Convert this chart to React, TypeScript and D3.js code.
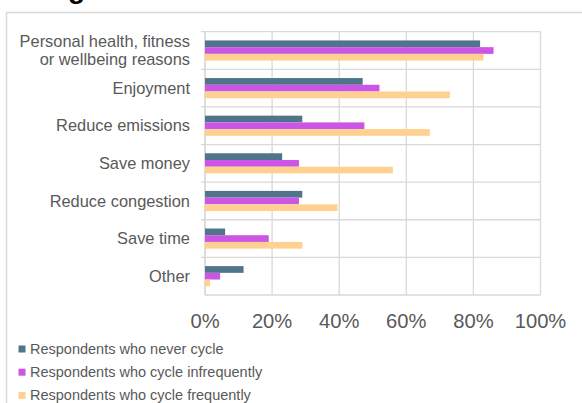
import React from "react";
import * as d3 from "d3";

const categories = [
  "Personal health, fitness|or wellbeing reasons",
  "Enjoyment",
  "Reduce emissions",
  "Save money",
  "Reduce congestion",
  "Save time",
  "Other",
];
const seriesNames = [
  "Respondents who never cycle",
  "Respondents who cycle infrequently",
  "Respondents who cycle frequently",
];
const neverCycle = [82, 47, 29, 23, 29, 6, 11.5];
const infrequent = [86, 52, 47.5, 28, 28, 19, 4.5];
const frequent = [83, 73, 67, 56, 39.5, 29, 1.5];
const seriesValues = [neverCycle, infrequent, frequent];
const colors = ["#50748a", "#cd55e5", "#ffd190"];
const xTicks = [0, 20, 40, 60, 80, 100];

const W = 582;
const H = 403;
const left = 205;
const right = 540.5;
const top = 31.7;
const bottom = 295;
const font = "'Liberation Sans', Arial, sans-serif";
const textColor = "#595959";
const gridColor = "#d9d9d9";

export default function App() {
  const x = d3.scaleLinear().domain([0, 100]).range([left, right]);
  const y = d3.scaleBand<number>().domain(d3.range(categories.length)).range([top, bottom]).padding(0);
  const y1 = d3
    .scaleBand<number>()
    .domain(d3.range(seriesNames.length))
    .range([0, y.bandwidth()])
    .paddingInner(0)
    .paddingOuter(1.3);

  return (
    <svg width={W} height={H} style={{ position: "absolute", left: 0, top: 0, background: "#fff" }}>
      <text x={68} y={-2} fontFamily={font} fontWeight="bold" fontSize={28} fill="#000">g</text>
      {/* frame */}
      <line x1={6.5} x2={W} y1={12.5} y2={12.5} stroke={gridColor} strokeWidth={1.5} />
      <line x1={6.5} x2={6.5} y1={12.5} y2={H} stroke={gridColor} strokeWidth={1.5} />
      {/* grid */}
      {xTicks.map((t) => (
        <line key={"v" + t} x1={x(t)} x2={x(t)} y1={top} y2={bottom} stroke={gridColor} strokeWidth={1.3} />
      ))}
      {d3.range(categories.length + 1).map((i) => {
        const yy = top + i * y.step();
        return (
          <line key={"h" + i} x1={i === categories.length ? left : left - 4} x2={right} y1={yy} y2={yy} stroke={gridColor} strokeWidth={1.3} />
        );
      })}
      <line x1={left} x2={left} y1={top} y2={bottom} stroke={gridColor} strokeWidth={1.3} />
      {/* bars */}
      {categories.map((c, i) =>
        seriesValues.map((vals, s) => (
          <rect
            key={c + s}
            x={x(0)}
            y={(y(i) as number) + (y1(s) as number)}
            width={x(vals[i]) - x(0)}
            height={y1.bandwidth()}
            fill={colors[s]}
          />
        ))
      )}
      {/* category labels */}
      {categories.map((c, i) => {
        const lines = c.split("|");
        const cy = (y(i) as number) + y.bandwidth() / 2;
        const lh = 18.5;
        return (
          <text key={c} x={190} y={cy} textAnchor="end" fontFamily={font} fontSize={16.4} fill={textColor}>
            {lines.map((l, k) => (
              <tspan key={k} x={190} y={cy + (k - (lines.length - 1) / 2) * lh} dy="0.35em">
                {l}
              </tspan>
            ))}
          </text>
        );
      })}
      {/* x tick labels */}
      {xTicks.map((t) => (
        <text key={"t" + t} x={x(t)} y={321} dy="0.35em" textAnchor="middle" fontFamily={font} fontSize={20.2} fill={textColor}>
          {t + "%"}
        </text>
      ))}
      {/* legend */}
      {seriesNames.map((n, s) => {
        const ly = 349 + s * 23.2;
        return (
          <g key={n}>
            <rect x={18.5} y={ly - 3.5} width={7} height={7} fill={colors[s]} />
            <text x={30} y={ly} dy="0.35em" fontFamily={font} fontSize={14.5} fill={textColor}>
              {n}
            </text>
          </g>
        );
      })}
    </svg>
  );
}
